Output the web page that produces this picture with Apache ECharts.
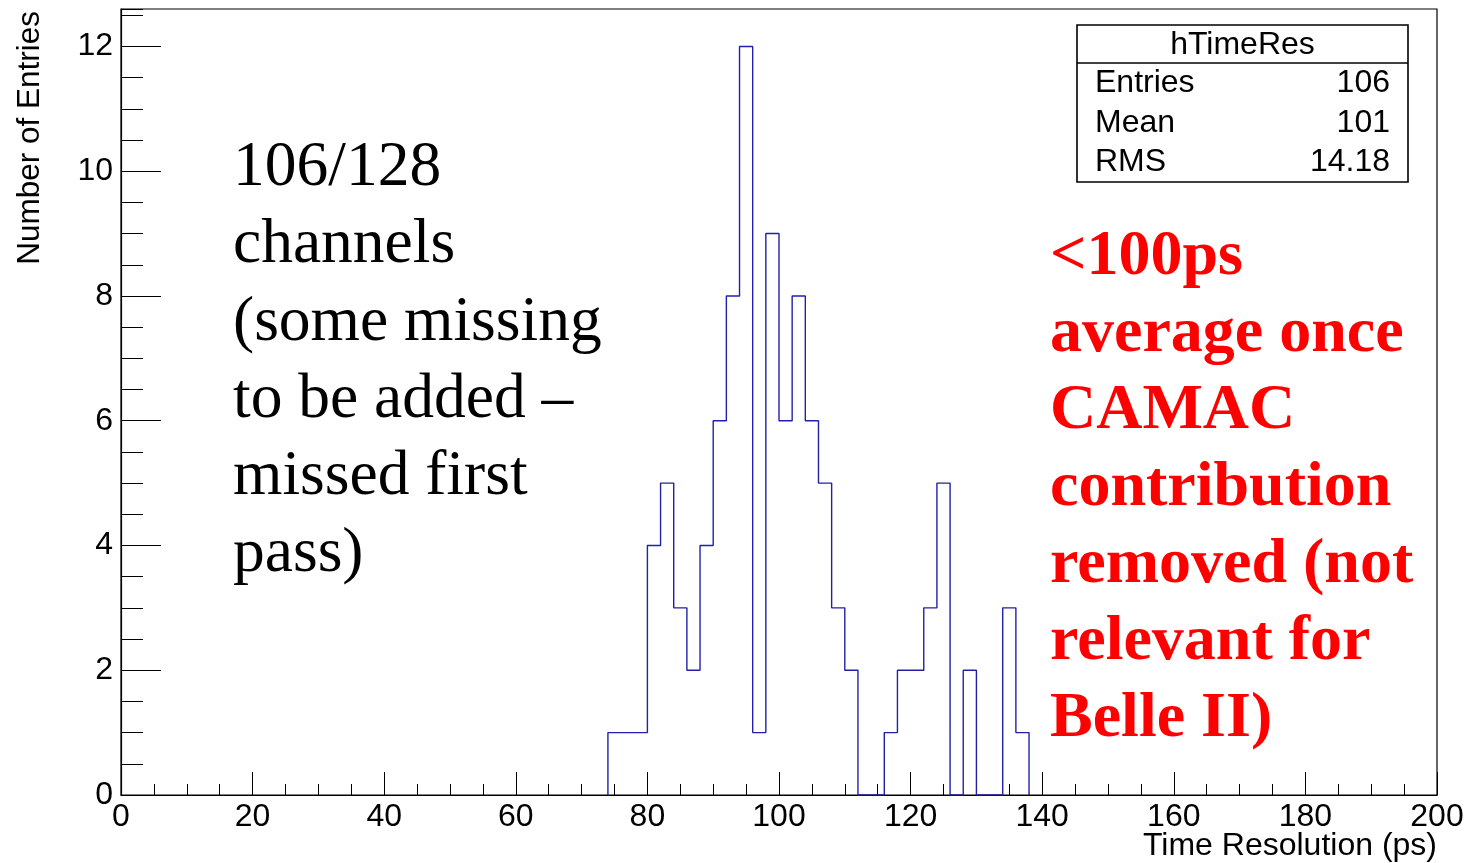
<!DOCTYPE html>
<html>
<head>
<meta charset="utf-8">
<script src="https://cdn.jsdelivr.net/npm/echarts@6/dist/echarts.min.js"></script>
<style>
  html, body { margin: 0; padding: 0; background: #fff; }
  #chart { width: 1476px; height: 863px; }
</style>
</head>
<body>
<div id="chart"></div>
<script>
// hTimeRes: per-channel time resolution, 2 ps bins starting at 74 ps
const binStart = 74;
const binWidth = 2;
const counts = [1, 1, 1, 4, 5, 3, 2, 4, 6, 8, 12, 1, 9, 6, 8, 6,
                5, 3, 2, 0, 0, 1, 2, 2, 3, 5, 0, 2, 0, 0, 3, 1];

const statsTitle = 'hTimeRes';
const statsNames = ['Entries', 'Mean', 'RMS'];
const statsValues = ['106', '101', '14.18'];

const noteLines = ['106/128', 'channels', '(some missing', 'to be added –', 'missed first', 'pass)'];
const claimLines = ['<100ps', 'average once', 'CAMAC', 'contribution', 'removed (not', 'relevant for', 'Belle II)'];

const xTitle = 'Time Resolution (ps)';
const yTitle = 'Number of Entries';

// histogram outline (step shape) built from the bin contents
const outline = [[binStart, 0]];
counts.forEach((v, i) => {
  const lo = binStart + i * binWidth;
  outline.push([lo, v], [lo + binWidth, v]);
});
outline.push([binStart + counts.length * binWidth, 0]);

const SANS = '"Liberation Sans", Arial, sans-serif';
const SERIF = '"Liberation Serif", "Times New Roman", serif';

function txt(x, y, text, font, fill, align, vAlign, extra, lineHeight) {
  const style = {
    text: text, font: font, fill: fill,
    align: align, verticalAlign: vAlign,
    textAlign: align, textVerticalAlign: vAlign
  };
  if (lineHeight) style.lineHeight = lineHeight;
  return Object.assign({ type: 'text', x: x, y: y, silent: true, style: style }, extra || {});
}

const chart = echarts.init(document.getElementById('chart'), null, { renderer: 'canvas' });

const statsBox = { left: 1077, top: 25, right: 1408, bottom: 182, divider: 63 };
const rowY = [83, 123, 162];
const statsFont = '32px ' + SANS;

const graphics = [
  // axis titles
  txt(1437, 846, xTitle, '32px ' + SANS, '#000', 'right', 'middle'),
  txt(30, 11, yTitle, '31.5px ' + SANS, '#000', 'right', 'middle', { rotation: Math.PI / 2 }),
  // statistics box
  {
    type: 'rect', silent: true,
    shape: { x: statsBox.left, y: statsBox.top, width: statsBox.right - statsBox.left, height: statsBox.bottom - statsBox.top },
    style: { fill: '#fff', stroke: '#000', lineWidth: 1.6 }
  },
  {
    type: 'line', silent: true,
    shape: { x1: statsBox.left, y1: statsBox.divider, x2: statsBox.right, y2: statsBox.divider },
    style: { stroke: '#000', lineWidth: 1.6 }
  },
  txt((statsBox.left + statsBox.right) / 2, 45, statsTitle, statsFont, '#000', 'center', 'middle')
];
statsNames.forEach((n, i) => {
  graphics.push(txt(1095, rowY[i], n, statsFont, '#000', 'left', 'middle'));
  graphics.push(txt(1390, rowY[i], statsValues[i], statsFont, '#000', 'right', 'middle'));
});
// annotation blocks
graphics.push(txt(233, 130, noteLines.join('\n'), '63.5px ' + SERIF, '#000', 'left', 'top', null, 77.2));
graphics.push(txt(1050, 219, claimLines.join('\n'), 'bold 64px ' + SERIF, '#ff0000', 'left', 'top', null, 77));

const tickLabel = { color: '#000', fontSize: 32, fontFamily: SANS };

chart.setOption({
  animation: false,
  backgroundColor: '#fff',
  grid: { left: 121, right: 39, top: 9, bottom: 68, show: true, borderColor: '#000', borderWidth: 1.2, backgroundColor: 'transparent' },
  xAxis: [
    {
      type: 'value', min: 0, max: 200, interval: 20, position: 'bottom',
      axisLine: { show: true, lineStyle: { color: '#000', width: 1.2 } },
      axisTick: { show: true, inside: true, length: 23, lineStyle: { color: '#000', width: 1 } },
      axisLabel: Object.assign({ margin: 6 }, tickLabel),
      splitLine: { show: false }
    },
    {
      type: 'value', min: 0, max: 200, interval: 5, position: 'bottom',
      axisLine: { show: false },
      axisTick: { show: true, inside: true, length: 11, lineStyle: { color: '#000', width: 1 } },
      axisLabel: { show: false },
      splitLine: { show: false }
    }
  ],
  yAxis: [
    {
      type: 'value', min: 0, max: 12.6, interval: 2, position: 'left',
      axisLine: { show: true, lineStyle: { color: '#000', width: 1.2 } },
      axisTick: { show: true, inside: true, length: 40, lineStyle: { color: '#000', width: 1 } },
      axisLabel: Object.assign({ margin: 8, showMaxLabel: false }, tickLabel),
      splitLine: { show: false }
    },
    {
      type: 'value', min: 0, max: 12.6, interval: 0.5, position: 'left',
      axisLine: { show: false },
      axisTick: { show: true, inside: true, length: 22, lineStyle: { color: '#000', width: 1 } },
      axisLabel: { show: false },
      splitLine: { show: false }
    }
  ],
  series: [
    {
      type: 'line', name: statsTitle, data: outline,
      xAxisIndex: 0, yAxisIndex: 0,
      showSymbol: false, symbol: 'none', silent: true,
      lineStyle: { color: '#2020aa', width: 1.4 },
      z: 3
    }
  ],
  graphic: graphics
});
</script>
</body>
</html>
